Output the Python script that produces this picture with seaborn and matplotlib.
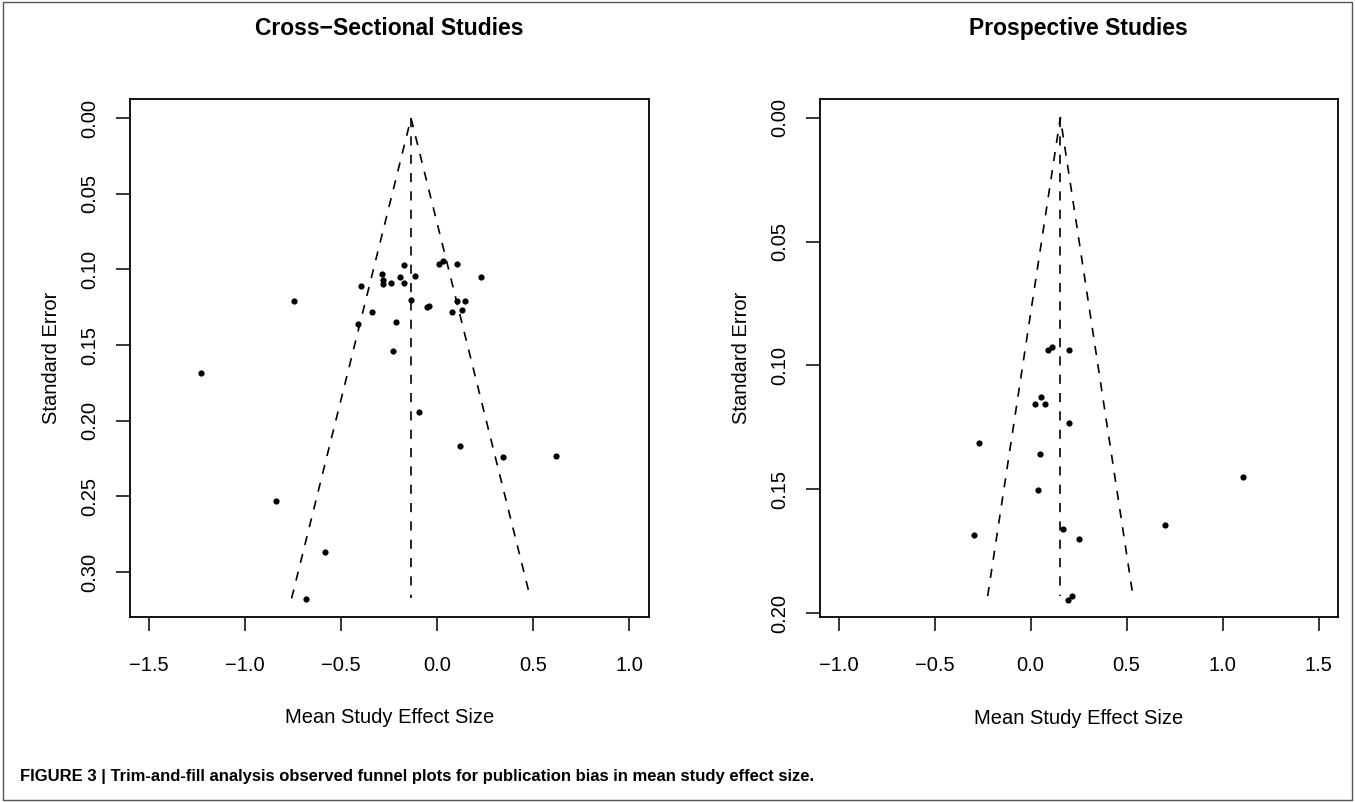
import numpy as np
import pandas as pd
import matplotlib.pyplot as plt
import seaborn as sns
from matplotlib.patches import Rectangle

# Cross-sectional studies: observed effect sizes and standard errors
cs_effect = [-0.172, 0.009, 0.031, 0.104, -0.288, -0.283, -0.279, -0.241, -0.194, -0.172,
             -0.113, 0.231, -0.397, -0.747, -0.134, -0.054, -0.042, 0.102, 0.148, 0.128,
             0.076, -0.337, -0.410, -0.215, -0.231, -1.231, -0.094, 0.120, 0.345, 0.618,
             -0.837, -0.583, -0.684]
cs_se = [0.0973, 0.0964, 0.0947, 0.0964, 0.1030, 0.1068, 0.1098, 0.1089, 0.1052, 0.1089,
         0.1046, 0.1052, 0.1111, 0.1210, 0.1200, 0.1246, 0.1240, 0.1210, 0.1210, 0.1266,
         0.1283, 0.1283, 0.1358, 0.1350, 0.1540, 0.1686, 0.1939, 0.2170, 0.2240, 0.2230,
         0.2533, 0.2868, 0.3178]
cs_center = -0.135
cs_se_max = 0.3174

# Prospective studies
pr_effect = [0.089, 0.111, 0.200, 0.056, 0.024, 0.075, 0.198, -0.266, 0.047, 1.108,
             0.040, 0.698, 0.168, -0.295, 0.254, 0.214, 0.193]
pr_se = [0.0937, 0.0927, 0.0937, 0.1127, 0.1155, 0.1155, 0.1232, 0.1313, 0.1357, 0.1450,
         0.1502, 0.1644, 0.1661, 0.1684, 0.1700, 0.1930, 0.1946]
pr_center = 0.155
pr_se_max = 0.193

cs_xticks = [-1.5, -1.0, -0.5, 0.0, 0.5, 1.0]
cs_yticks = [0.00, 0.05, 0.10, 0.15, 0.20, 0.25, 0.30]
pr_xticks = [-1.0, -0.5, 0.0, 0.5, 1.0, 1.5]
pr_yticks = [0.00, 0.05, 0.10, 0.15, 0.20]

sns.set_style('ticks')
plt.rcParams['font.family'] = ['Liberation Sans', 'DejaVu Sans']
for key in ['text.color', 'axes.labelcolor', 'xtick.color', 'ytick.color']:
    plt.rcParams[key] = 'black'

fig = plt.figure(figsize=(13.55, 8.02), dpi=100)
ax1 = fig.add_axes([0.0959, 0.2307, 0.3830, 0.6459])
ax2 = fig.add_axes([0.6048, 0.2302, 0.3824, 0.6464])


def funnel(ax, effect, se, center, se_max, xlim, ylim, xticks, yticks, title):
    df = pd.DataFrame({'effect': effect, 'se': se})
    dash = (0, (5.5, 5.5))
    z = 1.96
    ax.plot([center - z * se_max, center, center + z * se_max], [se_max, 0, se_max],
            color='black', lw=1.2, linestyle=dash)
    ax.plot([center, center], [0, se_max], color='black', lw=1.2, linestyle=dash)
    sns.scatterplot(data=df, x='effect', y='se', ax=ax, color='black', s=20,
                    edgecolor='black', linewidth=0, zorder=3)
    ax.set_xlim(xlim)
    ax.set_ylim(ylim)
    ax.set_xticks(xticks)
    ax.set_xticklabels([f'{t:.1f}'.replace('-', '\u2212') for t in xticks])
    ax.set_yticks(yticks)
    ax.set_yticklabels([f'{t:.2f}' for t in yticks], rotation=90, va='center')
    ax.tick_params(direction='out', length=10, width=1.1, labelsize=14.5, colors='black')
    ax.tick_params(axis='x', pad=18)
    ax.tick_params(axis='y', pad=12)
    for sp in ax.spines.values():
        sp.set_visible(True)
        sp.set_linewidth(1.3)
        sp.set_color('black')
    ax.set_xlabel('Mean Study Effect Size', fontsize=14.5, labelpad=24)
    ax.set_ylabel('Standard Error', fontsize=14.5, labelpad=14)
    ax.set_title(title, fontsize=16.5, fontweight='bold', pad=46)


funnel(ax1, cs_effect, cs_se, cs_center, cs_se_max, (-1.599, 1.104), (0.3297, -0.0127),
       cs_xticks, cs_yticks, 'Cross\u2212Sectional Studies')
funnel(ax2, pr_effect, pr_se, pr_center, pr_se_max, (-1.099, 1.599), (0.2016, -0.0075),
       pr_xticks, pr_yticks, 'Prospective Studies')

fig.patches.append(Rectangle((0.002, 0.002), 0.996, 0.996, transform=fig.transFigure,
                             fill=False, edgecolor='#555555', lw=1.0))
fig.text(0.015, 0.026, 'FIGURE 3 | Trim-and-fill analysis observed funnel plots for publication bias in mean study effect size.',
         fontsize=12, fontweight='bold')

fig.savefig('out.png', dpi=100)
